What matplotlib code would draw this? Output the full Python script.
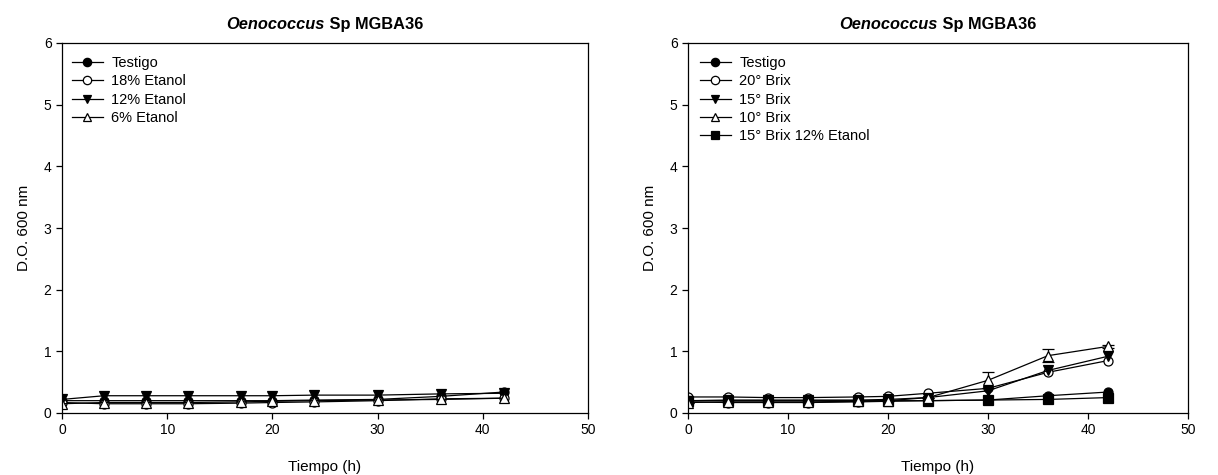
import matplotlib
matplotlib.use("Agg")
import matplotlib.pyplot as plt
from matplotlib.lines import Line2D

plt.rcParams['font.family'] = ['Liberation Sans', 'DejaVu Sans']

tiempo = [0, 4, 8, 12, 17, 20, 24, 30, 36, 42]

# Panel A: ethanol
etanol_labels = ["Testigo", "18% Etanol", "12% Etanol", "6% Etanol"]
testigo_a = [0.20, 0.20, 0.20, 0.20, 0.20, 0.20, 0.21, 0.22, 0.27, 0.34]
etanol_18 = [0.17, 0.15, 0.15, 0.15, 0.16, 0.17, 0.18, 0.20, 0.23, 0.24]
etanol_12 = [0.22, 0.28, 0.28, 0.28, 0.28, 0.28, 0.29, 0.29, 0.31, 0.32]
etanol_6 = [0.15, 0.17, 0.17, 0.17, 0.18, 0.19, 0.20, 0.21, 0.22, 0.24]

# Panel B: sugar content
brix_labels = ["Testigo", "20° Brix", "15° Brix", "10° Brix", "15° Brix 12% Etanol"]
testigo_b = [0.18, 0.17, 0.17, 0.17, 0.18, 0.19, 0.20, 0.21, 0.28, 0.34]
brix_20 = [0.26, 0.26, 0.25, 0.25, 0.26, 0.27, 0.32, 0.40, 0.66, 0.85]
brix_15 = [0.20, 0.21, 0.21, 0.21, 0.21, 0.22, 0.25, 0.36, 0.69, 0.92]
brix_10 = [0.17, 0.18, 0.18, 0.18, 0.19, 0.20, 0.25, 0.53, 0.93, 1.08]
brix_10_err = [0, 0, 0, 0, 0, 0, 0, 0.13, 0.10, 0.03]
brix_15_et = [0.20, 0.20, 0.20, 0.20, 0.20, 0.20, 0.20, 0.21, 0.22, 0.25]

styles_a = [
    dict(marker='o', mfc='black'),
    dict(marker='o', mfc='white'),
    dict(marker='v', mfc='black'),
    dict(marker='^', mfc='white'),
]
styles_b = [
    dict(marker='o', mfc='black'),
    dict(marker='o', mfc='white'),
    dict(marker='v', mfc='black'),
    dict(marker='^', mfc='white'),
    dict(marker='s', mfc='black'),
]

fig = plt.figure(figsize=(12.18, 4.75), dpi=100)
ax1 = fig.add_axes([62/1218, 1-413/475, 526/1218, 370/475])
ax2 = fig.add_axes([688/1218, 1-413/475, 500/1218, 370/475])


def draw_panel(ax, series, labels, styles, errs=None, legend_x=0.02):
    handles = []
    for i, (y, lab, st) in enumerate(zip(series, labels, styles)):
        kw = dict(color='black', lw=0.9, ms=6.5, mec='black', mew=0.9, **st)
        if errs is not None and errs[i] is not None:
            ax.errorbar(tiempo, y, yerr=errs[i], capsize=4, elinewidth=0.9,
                        ecolor='black', **kw)
        else:
            ax.plot(tiempo, y, **kw)
        handles.append(Line2D([], [], color='black', lw=0.9, ms=6, mec='black',
                              mew=0.9, label=lab, **st))
    ax.set_xlim(0, 50)
    ax.set_ylim(0, 6)
    ax.set_xticks(range(0, 51, 10))
    ax.set_yticks(range(0, 7))
    ax.tick_params(direction='out', length=4, width=0.9, labelsize=10,
                   top=False, right=False)
    for sp in ax.spines.values():
        sp.set_linewidth(0.9)
    ax.set_xlabel("Tiempo (h)", fontsize=11, labelpad=16)
    ax.set_ylabel("D.O. 600 nm", fontsize=11, labelpad=9)
    ax.legend(handles=handles, loc='upper left', frameon=False, fontsize=10.5,
              handlelength=2.1, handletextpad=0.6, labelspacing=0.3,
              borderaxespad=0, borderpad=0,
              bbox_to_anchor=(legend_x, 1 - 13/370))


draw_panel(ax1, [testigo_a, etanol_18, etanol_12, etanol_6], etanol_labels,
           styles_a, legend_x=10/526)
draw_panel(ax2, [testigo_b, brix_20, brix_15, brix_10, brix_15_et], brix_labels,
           styles_b, errs=[None, None, None, brix_10_err, None], legend_x=12/500)

# Title: italic genus name followed by bold strain name
fig.canvas.draw()
renderer = fig.canvas.get_renderer()
for ax in (ax1, ax2):
    t1 = ax.text(0, 0, "Oenococcus", fontsize=11.8, fontweight='bold',
                 fontstyle='italic', transform=ax.transAxes)
    t2 = ax.text(0, 0, " Sp MGBA36", fontsize=11.8, fontweight='bold',
                 transform=ax.transAxes)
    w1 = t1.get_window_extent(renderer).width
    w2 = t2.get_window_extent(renderer).width
    bb = ax.get_window_extent(renderer)
    cx = (bb.x0 + bb.x1) / 2
    y = bb.y1 + 14
    x0 = cx - (w1 + w2) / 2
    t1.set_transform(None)
    t2.set_transform(None)
    t1.set_position((x0, y))
    t2.set_position((x0 + w1, y))

fig.savefig("out.png", dpi=100)
